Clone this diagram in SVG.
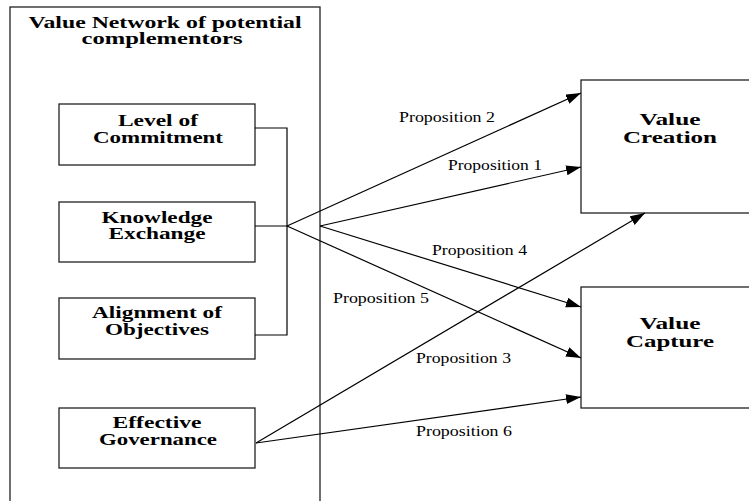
<svg xmlns="http://www.w3.org/2000/svg" width="749" height="501" viewBox="0 0 749 501">
<style>
.box{fill:#fff;stroke:#222;stroke-width:1.3}
.b{font-family:"Liberation Serif","Times New Roman",serif;font-weight:bold;font-size:17px;fill:#000}
.p{font-family:"Liberation Serif","Times New Roman",serif;font-size:15px;fill:#000}
.ln{stroke:#000;stroke-width:1.2;fill:none}
</style>
<defs>
<marker id="ah" markerUnits="userSpaceOnUse" markerWidth="16" markerHeight="12" refX="15" refY="5" orient="auto">
<path d="M0,0 L15,5 L0,10 Z" fill="#000"/>
</marker>
</defs>
<rect width="749" height="501" fill="#fff"/>
<g id="network">
<rect class="box" x="10" y="7" width="310" height="510"/>
<text class="b" x="165" y="28" text-anchor="middle" textLength="273" lengthAdjust="spacingAndGlyphs">Value Network of potential</text>
<text class="b" x="162" y="44" text-anchor="middle" textLength="161" lengthAdjust="spacingAndGlyphs">complementors</text>
</g>
<g id="commitment">
<rect class="box" x="59" y="104" width="196" height="61"/>
<text class="b" x="158" y="126" text-anchor="middle" textLength="80" lengthAdjust="spacingAndGlyphs">Level of</text>
<text class="b" x="158" y="143" text-anchor="middle" textLength="130" lengthAdjust="spacingAndGlyphs">Commitment</text>
</g>
<g id="knowledge">
<rect class="box" x="59" y="202" width="196" height="60"/>
<text class="b" x="157" y="223" text-anchor="middle" textLength="111" lengthAdjust="spacingAndGlyphs">Knowledge</text>
<text class="b" x="157" y="239" text-anchor="middle" textLength="97" lengthAdjust="spacingAndGlyphs">Exchange</text>
</g>
<g id="alignment">
<rect class="box" x="59" y="298" width="196" height="61"/>
<text class="b" x="157" y="318" text-anchor="middle" textLength="130" lengthAdjust="spacingAndGlyphs">Alignment of</text>
<text class="b" x="157" y="335" text-anchor="middle" textLength="104" lengthAdjust="spacingAndGlyphs">Objectives</text>
</g>
<g id="governance">
<rect class="box" x="59" y="408" width="196" height="60"/>
<text class="b" x="157" y="428" text-anchor="middle" textLength="89" lengthAdjust="spacingAndGlyphs">Effective</text>
<text class="b" x="158" y="445" text-anchor="middle" textLength="118" lengthAdjust="spacingAndGlyphs">Governance</text>
</g>
<g id="creation">
<rect class="box" x="581" y="80" width="180" height="133"/>
<text class="b" x="670" y="125" text-anchor="middle" textLength="61" lengthAdjust="spacingAndGlyphs">Value</text>
<text class="b" x="670" y="143" text-anchor="middle" textLength="94" lengthAdjust="spacingAndGlyphs">Creation</text>
</g>
<g id="capture">
<rect class="box" x="581" y="287" width="180" height="121"/>
<text class="b" x="670" y="329" text-anchor="middle" textLength="61" lengthAdjust="spacingAndGlyphs">Value</text>
<text class="b" x="670" y="347" text-anchor="middle" textLength="88" lengthAdjust="spacingAndGlyphs">Capture</text>
</g>
<g id="connectors">
<path class="ln" d="M255,128 H287 V335 H255 M255,226 H287"/>
<line class="ln" x1="287" y1="226" x2="581" y2="93" marker-end="url(#ah)"/>
<line class="ln" x1="320" y1="226" x2="581" y2="167" marker-end="url(#ah)"/>
<line class="ln" x1="320" y1="226" x2="581" y2="307" marker-end="url(#ah)"/>
<line class="ln" x1="287" y1="226" x2="581" y2="358" marker-end="url(#ah)"/>
<line class="ln" x1="256" y1="443" x2="645" y2="213" marker-end="url(#ah)"/>
<line class="ln" x1="256" y1="443" x2="581" y2="397" marker-end="url(#ah)"/>
<text class="p" x="399" y="122" textLength="96" lengthAdjust="spacingAndGlyphs">Proposition 2</text>
<text class="p" x="448" y="170" textLength="94" lengthAdjust="spacingAndGlyphs">Proposition 1</text>
<text class="p" x="432" y="255" textLength="95" lengthAdjust="spacingAndGlyphs">Proposition 4</text>
<text class="p" x="333" y="303" textLength="96" lengthAdjust="spacingAndGlyphs">Proposition 5</text>
<text class="p" x="416" y="363" textLength="95" lengthAdjust="spacingAndGlyphs">Proposition 3</text>
<text class="p" x="416" y="436" textLength="96" lengthAdjust="spacingAndGlyphs">Proposition 6</text>
</g>
</svg>
